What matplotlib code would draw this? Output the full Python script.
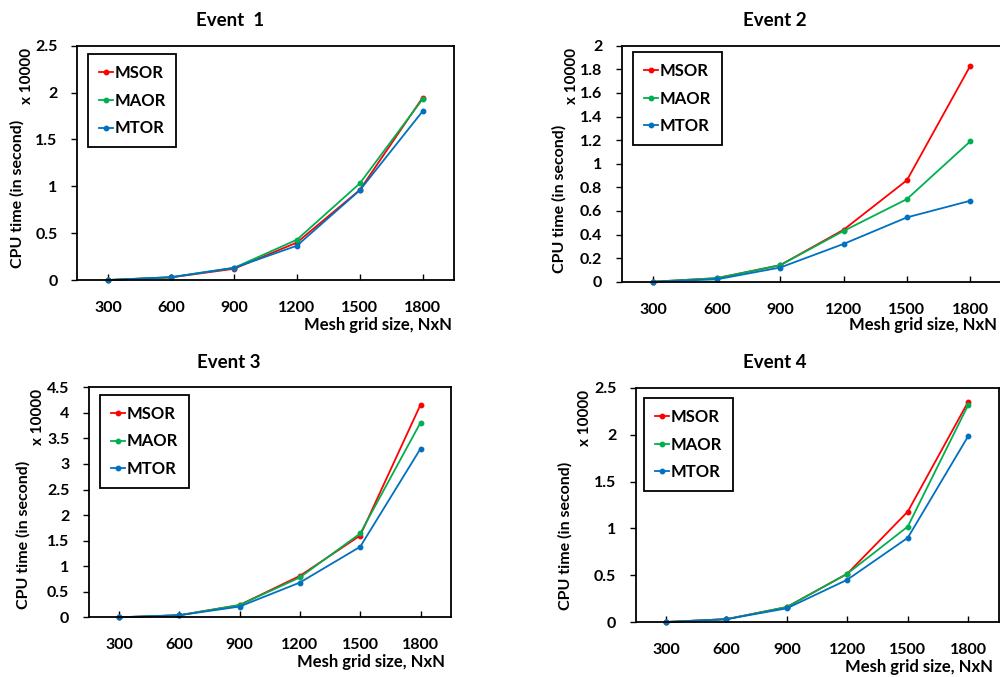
import matplotlib
matplotlib.use("Agg")
import matplotlib.pyplot as plt

plt.rcParams['font.family'] = ['Lato', 'DejaVu Sans']
plt.rcParams['font.weight'] = 'bold'

sizes = [300, 600, 900, 1200, 1500, 1800]
size_labels = ["300", "600", "900", "1200", "1500", "1800"]
series_names = ["MSOR", "MAOR", "MTOR"]
colors = ["#FF0000", "#00B050", "#0070C0"]

e1_msor = [0.0, 0.028, 0.12, 0.40, 0.96, 1.945]
e1_maor = [0.0, 0.030, 0.13, 0.43, 1.03, 1.93]
e1_mtor = [0.0, 0.030, 0.13, 0.366, 0.957, 1.80]

e2_msor = [0.0, 0.03, 0.14, 0.44, 0.86, 1.83]
e2_maor = [0.0, 0.03, 0.14, 0.43, 0.70, 1.19]
e2_mtor = [0.0, 0.02, 0.12, 0.32, 0.545, 0.686]

e3_msor = [0.0, 0.04, 0.24, 0.81, 1.60, 4.16]
e3_maor = [0.0, 0.04, 0.24, 0.78, 1.64, 3.81]
e3_mtor = [0.0, 0.04, 0.21, 0.68, 1.38, 3.30]

e4_msor = [0.0, 0.03, 0.16, 0.516, 1.18, 2.354]
e4_maor = [0.0, 0.03, 0.16, 0.516, 1.02, 2.32]
e4_mtor = [0.0, 0.03, 0.146, 0.452, 0.90, 1.987]

titles = ["Event  1", "Event 2", "Event 3", "Event 4"]
y_max = [2.5, 2.0, 4.5, 2.5]
y_step = [0.5, 0.2, 0.5, 0.5]
y_ticklabels = [
    ["0", "0.5", "1", "1.5", "2", "2.5"],
    ["0", "0.2", "0.4", "0.6", "0.8", "1", "1.2", "1.4", "1.6", "1.8", "2"],
    ["0", "0.5", "1", "1.5", "2", "2.5", "3", "3.5", "4", "4.5"],
    ["0", "0.5", "1", "1.5", "2", "2.5"],
]
events = [
    [e1_msor, e1_maor, e1_mtor],
    [e2_msor, e2_maor, e2_mtor],
    [e3_msor, e3_maor, e3_mtor],
    [e4_msor, e4_maor, e4_mtor],
]

W, H = 1000, 677
fig = plt.figure(figsize=(W / 100, H / 100), dpi=100)

def fx(px):
    return px / W

def fy(py):
    return 1 - py / H

# pixel layouts: (left, top, right, bottom)
boxes = [(77, 45.7, 454, 280), (621.7, 45.7, 1002, 281.7),
         (88.7, 387.3, 450.7, 617.3), (635.7, 388, 998.5, 622)]
legend_boxes = [(87.7, 54.3), (633, 52), (100, 395), (644, 398)]
title_pos = [(230, 20.7), (775, 20.7), (229, 362.7), (775, 362.7)]
mult_pos = [(27, 76), (571.7, 76), (38, 417), (585, 418)]
ylab_pos = [(17, 194), (559, 199), (23, 535), (565, 536)]
xlab_pos = [(452, 325), (997, 325), (445, 662), (993, 667)]

for i in range(4):
    l, t, r, b = boxes[i]
    ax = fig.add_axes([fx(l), fy(b), fx(r) - fx(l), fy(t) - fy(b)])
    for name, col, vals in zip(series_names, colors, events[i]):
        ax.plot(sizes, vals, color=col, lw=1.3, marker='o', ms=3.2,
                label=name, clip_on=False)
    ax.set_xlim(150, 1950)
    ax.set_ylim(0, y_max[i])
    n = len(y_ticklabels[i])
    ax.set_yticks([k * y_step[i] for k in range(n)])
    ax.set_yticklabels(y_ticklabels[i])
    ax.set_xticks(sizes)
    ax.set_xticklabels(size_labels)
    ax.tick_params(axis='y', direction='out', length=4, width=1, pad=10,
                   labelsize=11.5)
    ax.tick_params(axis='x', direction='in', length=4, width=1, pad=15,
                   labelsize=11.5)
    for lab in ax.get_xticklabels() + ax.get_yticklabels():
        lab.set_fontweight('bold')
    for s in ax.spines.values():
        s.set_linewidth(1.3)
        s.set_color('black')

    lx, ly = legend_boxes[i]
    leg = ax.legend(loc='upper left',
                    bbox_to_anchor=(fx(lx), fy(ly)),
                    bbox_transform=fig.transFigure,
                    prop={'weight': 'bold', 'size': 12},
                    handlelength=0.85, handletextpad=0.1,
                    labelspacing=0.7, borderpad=0.65,
                    fancybox=False, framealpha=1, borderaxespad=0)
    leg.get_frame().set_edgecolor('black')
    leg.get_frame().set_linewidth(1.3)

    tx, ty = title_pos[i]
    fig.text(fx(tx), fy(ty), titles[i], ha='center', va='center',
             fontsize=13.5, fontweight='bold')
    mx, my = mult_pos[i]
    fig.text(fx(mx), fy(my), "x 10000", ha='center', va='center',
             rotation=90, fontsize=11, fontweight='bold')
    yx, yy = ylab_pos[i]
    fig.text(fx(yx), fy(yy), "CPU time (in second)", ha='center', va='center',
             rotation=90, fontsize=11.5, fontweight='bold')
    xx, xy = xlab_pos[i]
    fig.text(fx(xx), fy(xy), "Mesh grid size, NxN", ha='right', va='center',
             fontsize=12, fontweight='bold')

fig.savefig("out.png", dpi=100)
